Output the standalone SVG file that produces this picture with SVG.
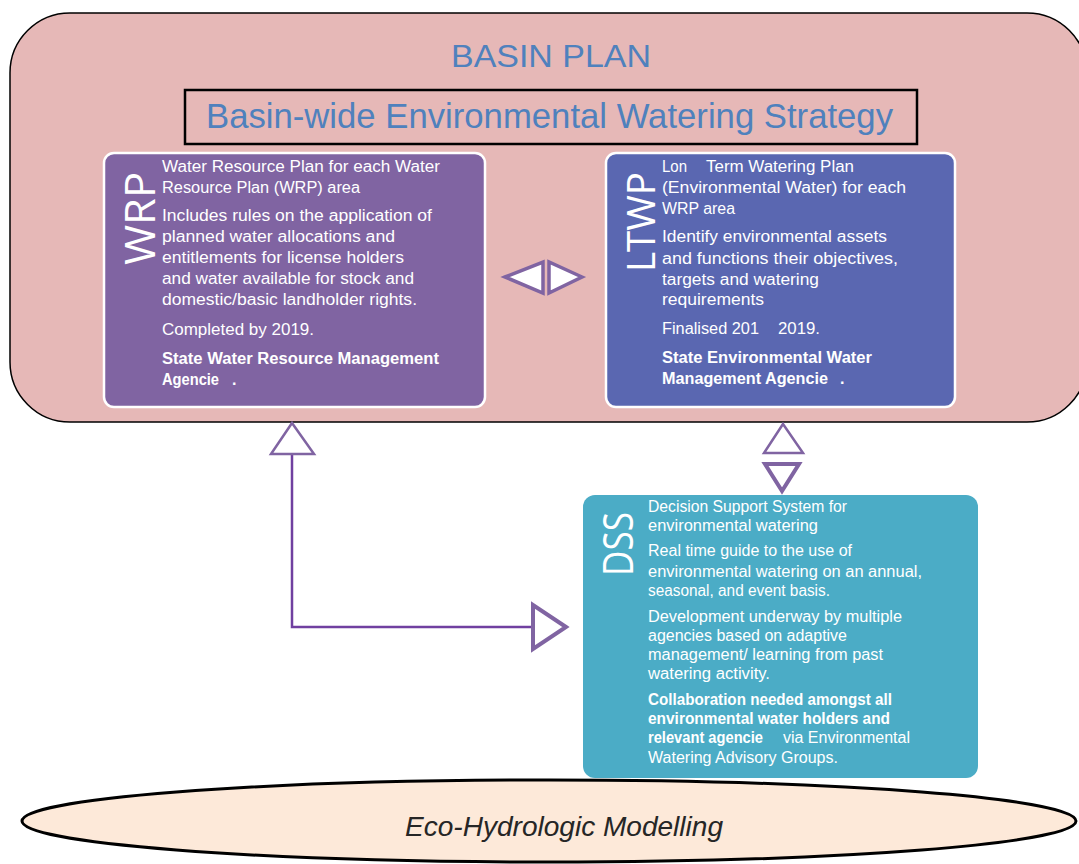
<svg xmlns="http://www.w3.org/2000/svg" width="1079" height="864" viewBox="0 0 1079 864">
<style>
.t{font-family:"Liberation Sans",Arial,sans-serif;font-size:16px;fill:#fff}
.b{font-weight:bold}
.big{font-family:"Open Sans","Liberation Sans",sans-serif;fill:#fff}
.tri{fill:#fff;stroke:#8064A2;stroke-linejoin:miter}
</style>
<rect width="1079" height="864" fill="#fff"/>
<g id="basin-plan">
<rect x="10" y="13" width="1077" height="409" rx="60" ry="60" fill="#E6B8B7" stroke="#000" stroke-width="1.5"/>
<text x="551" y="67" text-anchor="middle" font-family="Liberation Sans, Arial, sans-serif" font-size="32" fill="#4F81BD" textLength="200" lengthAdjust="spacingAndGlyphs">BASIN PLAN</text>
</g>
<g id="strategy">
<rect x="185" y="90" width="732" height="54" fill="none" stroke="#000" stroke-width="2.5"/>
<text x="549.5" y="128" text-anchor="middle" font-family="Liberation Sans, Arial, sans-serif" font-size="34.6" fill="#4F81BD" textLength="687" lengthAdjust="spacingAndGlyphs">Basin-wide Environmental Watering Strategy</text>
</g>
<g id="wrp">
<rect x="104" y="153" width="381" height="254" rx="10" fill="#8064A2" stroke="#fff" stroke-width="2.5"/>
<text class="big" transform="translate(155,265) rotate(-90)" font-size="42" textLength="93" lengthAdjust="spacingAndGlyphs">WRP</text>
<text class="t" x="162" y="172" textLength="278" lengthAdjust="spacingAndGlyphs">Water Resource Plan for each Water</text>
<text class="t" x="162" y="193" textLength="198" lengthAdjust="spacingAndGlyphs">Resource Plan (WRP) area</text>
<text class="t" x="162" y="221" textLength="270" lengthAdjust="spacingAndGlyphs">Includes rules on the application of</text>
<text class="t" x="162" y="242" textLength="233" lengthAdjust="spacingAndGlyphs">planned water  allocations and</text>
<text class="t" x="162" y="263" textLength="242" lengthAdjust="spacingAndGlyphs">entitlements for license holders</text>
<text class="t" x="162" y="284" textLength="252" lengthAdjust="spacingAndGlyphs">and water available for stock and</text>
<text class="t" x="162" y="305" textLength="255" lengthAdjust="spacingAndGlyphs">domestic/basic landholder rights.</text>
<text class="t" x="162" y="335" textLength="152" lengthAdjust="spacingAndGlyphs">Completed by 2019.</text>
<text class="t b" x="162" y="364" textLength="277" lengthAdjust="spacingAndGlyphs">State Water Resource Management</text>
<text class="t b" x="162" y="385" textLength="57" lengthAdjust="spacingAndGlyphs">Agencie</text>
<text class="t b" x="232" y="385">.</text>
</g>
<g id="ltwp">
<rect x="606" y="153" width="349" height="254" rx="10" fill="#5A67B1" stroke="#fff" stroke-width="2.5"/>
<text class="big" transform="translate(655,272) rotate(-90)" font-size="39" textLength="100" lengthAdjust="spacingAndGlyphs">LTWP</text>
<text class="t" x="662" y="172" textLength="25" lengthAdjust="spacingAndGlyphs">Lon</text>
<text class="t" x="706" y="172" textLength="148" lengthAdjust="spacingAndGlyphs">Term Watering Plan</text>
<text class="t" x="662" y="193" textLength="244" lengthAdjust="spacingAndGlyphs">(Environmental Water)  for each</text>
<text class="t" x="662" y="214" textLength="73" lengthAdjust="spacingAndGlyphs">WRP area</text>
<text class="t" x="662" y="242" textLength="225" lengthAdjust="spacingAndGlyphs">Identify environmental assets</text>
<text class="t" x="662" y="264" textLength="236" lengthAdjust="spacingAndGlyphs">and functions  their objectives,</text>
<text class="t" x="662" y="285" textLength="157" lengthAdjust="spacingAndGlyphs">targets and watering</text>
<text class="t" x="662" y="305" textLength="102" lengthAdjust="spacingAndGlyphs">requirements</text>
<text class="t" x="662" y="334" textLength="97" lengthAdjust="spacingAndGlyphs">Finalised 201</text>
<text class="t" x="778" y="334" textLength="42" lengthAdjust="spacingAndGlyphs">2019.</text>
<text class="t b" x="662" y="363" textLength="210" lengthAdjust="spacingAndGlyphs">State Environmental Water</text>
<text class="t b" x="662" y="384" textLength="166" lengthAdjust="spacingAndGlyphs">Management Agencie</text>
<text class="t b" x="840" y="384">.</text>
</g>
<g id="dss">
<rect x="583" y="495" width="395" height="283" rx="12" fill="#4BACC6"/>
<text class="big" transform="translate(633,576) rotate(-90)" font-size="42" textLength="64" lengthAdjust="spacingAndGlyphs">DSS</text>
<text class="t" x="648" y="512" textLength="199" lengthAdjust="spacingAndGlyphs">Decision Support System for</text>
<text class="t" x="648" y="531" textLength="170" lengthAdjust="spacingAndGlyphs">environmental watering</text>
<text class="t" x="648" y="556" textLength="204" lengthAdjust="spacingAndGlyphs">Real time guide to the use of</text>
<text class="t" x="648" y="577" textLength="274" lengthAdjust="spacingAndGlyphs">environmental watering  on an annual,</text>
<text class="t" x="648" y="596" textLength="182" lengthAdjust="spacingAndGlyphs">seasonal, and event basis.</text>
<text class="t" x="648" y="622" textLength="254" lengthAdjust="spacingAndGlyphs">Development underway by multiple</text>
<text class="t" x="648" y="641" textLength="199" lengthAdjust="spacingAndGlyphs">agencies  based on adaptive</text>
<text class="t" x="648" y="660" textLength="235" lengthAdjust="spacingAndGlyphs">management/ learning from past</text>
<text class="t" x="648" y="679" textLength="122" lengthAdjust="spacingAndGlyphs">watering activity.</text>
<text class="t b" x="648" y="705" textLength="244" lengthAdjust="spacingAndGlyphs">Collaboration needed amongst all</text>
<text class="t b" x="648" y="724" textLength="242" lengthAdjust="spacingAndGlyphs">environmental water holders and</text>
<text class="t b" x="648" y="743" textLength="115" lengthAdjust="spacingAndGlyphs">relevant agencie</text>
<text class="t" x="783" y="743" textLength="127" lengthAdjust="spacingAndGlyphs">via Environmental</text>
<text class="t" x="648" y="763" textLength="190" lengthAdjust="spacingAndGlyphs">Watering Advisory Groups.</text>
</g>
<g id="modelling">
<ellipse cx="549" cy="821" rx="527" ry="41" fill="#FDE9D9" stroke="#000" stroke-width="3"/>
<text x="564" y="836" text-anchor="middle" font-family="Liberation Sans, Arial, sans-serif" font-style="italic" font-size="28" fill="#262626" textLength="318" lengthAdjust="spacingAndGlyphs">Eco-Hydrologic Modelling</text>
</g>
<g id="connectors">
<polygon class="tri" points="505,277 543,262 543,293" stroke-width="3.5"/>
<polygon class="tri" points="582,277 549,262 549,293" stroke-width="3.5"/>
<path d="M292,454 V627 H532" fill="none" stroke="#7040A0" stroke-width="2.5"/>
<polygon class="tri" points="292,423 271,454 314,454" stroke-width="2.5"/>
<polygon class="tri" points="566,627 533,605 533,649" stroke-width="4"/>
<polygon class="tri" points="783,424 764,453 803,453" stroke-width="2.5"/>
<polygon class="tri" points="782,491 765,464 799,464" stroke-width="4"/>
</g>
</svg>
